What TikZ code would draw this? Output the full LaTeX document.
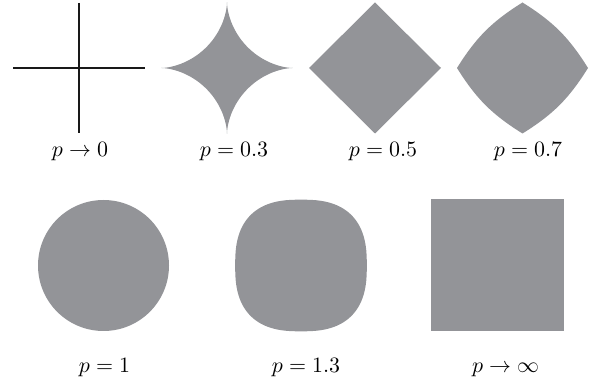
\documentclass[tikz,border=0pt]{standalone}
\usepackage{amsmath,amssymb}
\usepackage{tikz}
\usepackage{xcolor}
\definecolor{ballgray}{RGB}{147,148,152}

\begin{document}
\begin{tikzpicture}[x=0.5pt,y=-0.5pt,ball/.style={fill=ballgray},lab/.style={anchor=base,font=\fontsize{11}{13}\selectfont}]
  \useasboundingbox (0,0) rectangle (590,379);
  % top row
  \draw[line width=1pt,black!90] (13,68) -- (145,68) (79,3) -- (79,133);
  \foreach \cx/\cy/\e in {227/68/3.333, 301/265.5/0.7692}
    \fill[ball,shift={(\cx,\cy)},scale=65.8] (1,0) \foreach \a in {0,90,180,270}{ -- plot[domain=\a+1:\a+89,samples=60] ({sign(cos(\x))*pow(abs(cos(\x)),\e)},{sign(sin(\x))*pow(abs(sin(\x)),\e)}) -- ({cos(\a+90)},{sin(\a+90)}) } -- cycle;
  \fill[ball] (309,68) -- (375,2.5) -- (441,68) -- (375,133.5) -- cycle;
  \fill[ball] (588,68) to[bend right=13] (522.5,2.5) to[bend right=13] (457,68) to[bend right=13] (522.5,133.5) to[bend right=13] cycle;
  \node[lab] (l0) at (80,157) {$p\to 0$}; \node[lab] (l03) at (234,157) {$p=0.3$};
  \node[lab] (l05) at (383,157) {$p=0.5$}; \node[lab] (l07) at (528,157) {$p=0.7$};
  % bottom row
  \fill[ball] (103.5,265.5) circle (65.5);
  \fill[ball] (431,199) rectangle (564,331);
  \node[lab] (l1) at (104.5,373) {$p=1$}; \node[lab] (l13) at (306,373) {$p=1.3$};
  \node[lab] (linf) at (505.5,373) {$p\to\infty$};
\end{tikzpicture}
\end{document}
